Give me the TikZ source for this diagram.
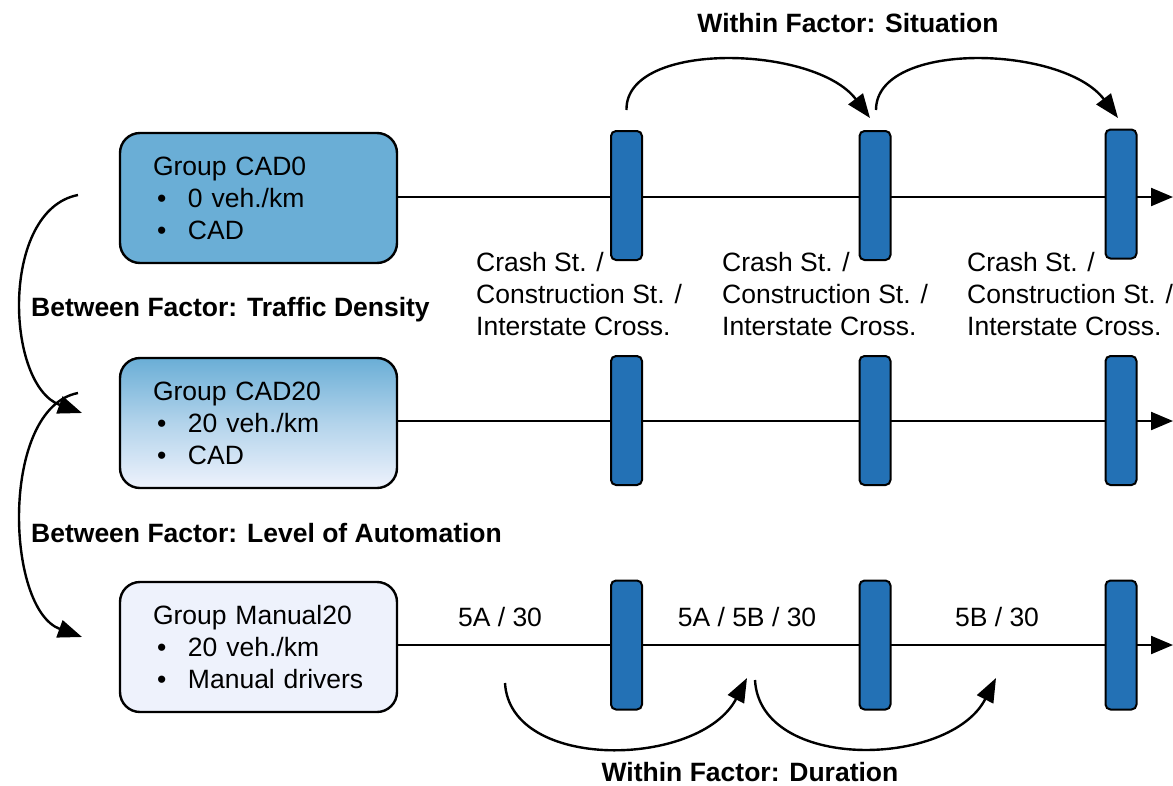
\documentclass[tikz,border=0pt]{standalone}
\usepackage{fontspec}
\setmainfont{Liberation Sans}
\usetikzlibrary{arrows.meta,shadings}
\definecolor{grpdark}{RGB}{106,174,214}
\definecolor{grplight}{RGB}{238,242,252}
\definecolor{barblue}{RGB}{35,113,181}
\tikzset{
  every node/.style={font=\fontsize{26.5}{32}\selectfont},
  group/.style={draw=black, line width=2.4pt, rounded corners=20pt,
    minimum width=277pt, minimum height=130pt, align=left,
    text width=211pt, inner xsep=33pt, inner ysep=0pt},
  stagebar/.style={draw=black, line width=2pt, fill=barblue, rounded corners=5pt,
    minimum width=31pt, minimum height=129pt, inner sep=0pt},
  timeline/.style={line width=2.2pt, -{Triangle[length=22pt,width=18pt]}},
  factor/.style={line width=2.4pt, -{Triangle[length=24pt,width=18pt]}},
  lbl/.style={inner sep=0pt, align=left},
  bold/.style={inner sep=0pt, font=\fontsize{26.5}{32}\selectfont\bfseries},
}
\newcommand{\itm}[1]{\makebox[35pt][l]{\kern4pt\textbullet}#1}
\begin{document}
\begin{tikzpicture}[x=1pt,y=-1pt]
\useasboundingbox (0,0) rectangle (1173,785);

% group boxes
\node[group, fill=grpdark] (g1) at (258.5,198) {Group CAD0\\ \itm{0 veh./km}\\ \itm{CAD}};
\node[group, top color=grpdark, bottom color=grplight, middle color=grplight!55!grpdark] (g2) at (258.5,423) {Group CAD20\\ \itm{20 veh./km}\\ \itm{CAD}};
\node[group, fill=grplight] (g3) at (258.5,647) {Group Manual20\\ \itm{20 veh./km}\\ \itm{Manual drivers}};

% timeline ends
\coordinate (e1) at (1173,197);
\coordinate (e2) at (1173,421);
\coordinate (e3) at (1173,645);
\draw[timeline] (g1.east |- e1) -- (e1);
\draw[timeline] (g2.east |- e2) -- (e2);
\draw[timeline] (g3.east |- e3) -- (e3);

% stage bars
\node[stagebar] (a1) at (626.5,195.5) {};
\node[stagebar] (b1) at (875,195.5) {};
\node[stagebar] (c1) at (1121,194) {};
\node[stagebar] (a2) at (626.5,420.5) {};
\node[stagebar] (b2) at (875,420.5) {};
\node[stagebar] (c2) at (1121,420.5) {};
\node[stagebar] (a3) at (626.5,645) {};
\node[stagebar] (b3) at (875,645) {};
\node[stagebar] (c3) at (1121,645) {};

% situation labels
\node[lbl, anchor=north west] (s1) at (476,252) {Crash St. /\\Construction St. /\\Interstate Cross.};
\node[lbl, anchor=north west] (s2) at (722,252) {Crash St. /\\Construction St. /\\Interstate Cross.};
\node[lbl, anchor=north west] (s3) at (967,252) {Crash St. /\\Construction St. /\\Interstate Cross.};

% duration labels
\node[lbl] (d1) at (500,617) {5A / 30};
\node[lbl] (d2) at (747,617) {5A / 5B / 30};
\node[lbl] (d3) at (997,617) {5B / 30};

% factor titles
\node[bold] (t1) at (848,23) {Within Factor: Situation};
\node[bold, anchor=west] (t2) at (31,310) {Between Factor: Traffic Density};
\node[bold, anchor=west] (t3) at (31,533) {Between Factor: Level of Automation};
\node[bold] (t4) at (750,772) {Within Factor: Duration};

% within factor: situation
\coordinate (p1) at (a1.north |- 0,110);
\coordinate (p2) at (870,118);
\coordinate (p3) at (876,110);
\coordinate (p4) at (1118,118);
\draw[factor] (p1) .. controls (625,40) and (815,45) .. (p2);
\draw[factor] (p3) .. controls (876,40) and (1063,45) .. (p4);

% within factor: duration
\coordinate (q1) at (505,683);
\coordinate (q2) at (747,678);
\coordinate (q3) at (755,680);
\coordinate (q4) at (996,678);
\draw[factor] (q1) .. controls (510,772) and (700,768) .. (q2);
\draw[factor] (q3) .. controls (760,772) and (950,768) .. (q4);

% between factors
\coordinate (r1) at (78,195);
\coordinate (r2) at (82,413);
\coordinate (r3) at (78,393);
\coordinate (r4) at (82,637);
\draw[factor] (r1) .. controls (0,210) and (5,385) .. (r2);
\draw[factor] (r3) .. controls (0,408) and (5,609) .. (r4);
\end{tikzpicture}
\end{document}
